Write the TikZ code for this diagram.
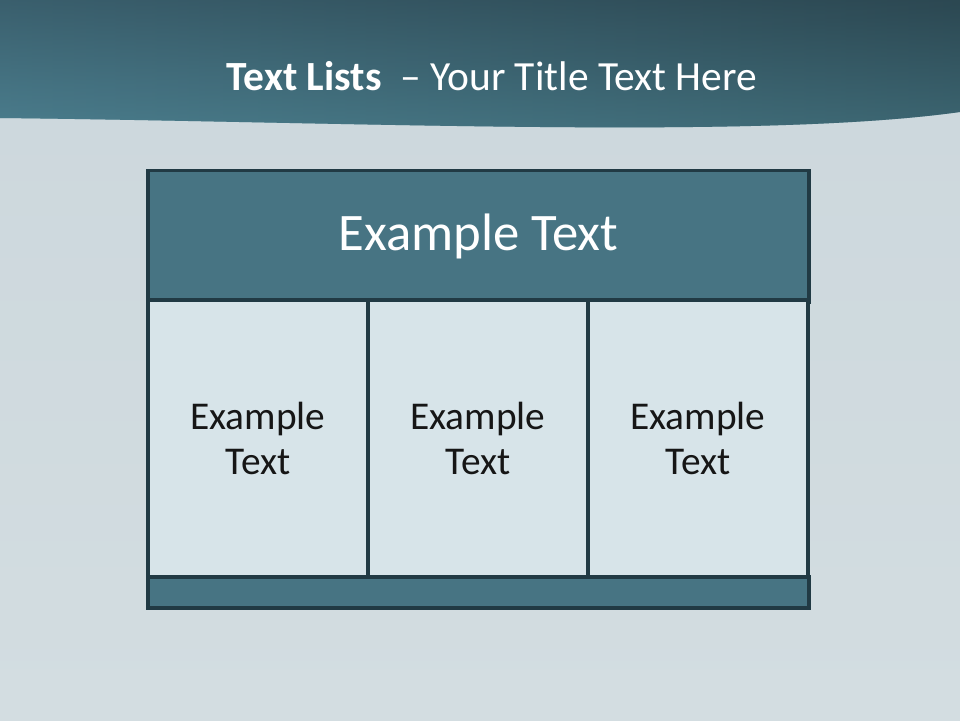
\documentclass[tikz,border=0pt]{standalone}
\usepackage{fontspec}
\setmainfont{Carlito}
\usetikzlibrary{positioning}
\definecolor{tlpaper}{HTML}{CCD7DC}
\definecolor{tlpaperlow}{HTML}{D3DDE1}
\definecolor{tlbandtop}{HTML}{2C4852}
\definecolor{tlbandbottom}{HTML}{508A98}
\definecolor{tlbandleft}{HTML}{487688}
\definecolor{tlbandright}{HTML}{2C4852}
\definecolor{tlhead}{HTML}{477483}
\definecolor{tlcell}{HTML}{D7E4E9}
\definecolor{tlline}{HTML}{213A44}
\definecolor{tlink}{HTML}{161616}
\tikzset{
  tlframe/.style={
    draw=tlline, line width=2.3pt, inner sep=0pt},
  tlheadbox/.style={
    tlframe, fill=tlhead, minimum width=16.525cm, minimum height=3.3cm,
    font=\fontsize{37.5}{44}\selectfont, text=white},
  tlcellbox/.style={
    tlframe, fill=tlcell, minimum width=5.5cm, minimum height=6.925cm,
    font=\fontsize{28}{32.5}\selectfont, text=tlink, align=center},
  tlfootbox/.style={
    tlframe, fill=tlhead, minimum width=16.525cm, minimum height=0.775cm},
  tltitle/.style={font=\fontsize{29.5}{36}\selectfont, text=white},
}

\begin{document}
\begin{tikzpicture}[x=1cm, y=1cm]
\useasboundingbox (0, 0) rectangle (24, 18);

% Paper background and the wavy top band.
\shade[bottom color=tlpaperlow, top color=tlpaper] (0, 0) rectangle (24, 18);
\shade[bottom color=tlbandbottom, top color=tlbandtop]
  (0, 18) -- (24, 18) -- (24, 15.2)
  .. controls (19, 14.5) and (9, 14.95) .. (0, 15.05) -- cycle;
\shade[left color=tlbandleft, right color=tlbandright, fill opacity=0.5]
  (0, 18) -- (24, 18) -- (24, 15.2)
  .. controls (19, 14.5) and (9, 14.95) .. (0, 15.05) -- cycle;

% Title.
\node[tltitle] (title) at (12.3, 16.1)
  {\textbf{Text Lists}\ \ -- Your Title Text Here};

% Header row, three cells and the footer strip.
\node[tlheadbox] (head) at (11.9625, 12.08) {Example Text};
\foreach \i/\x in {0/6.45, 1/11.95, 2/17.45} {
  \node[tlcellbox] (cell\i) at (\x, 7.0375) {Example\\Text};
}
\node[tlfootbox] (foot) at (11.9625, 3.1875) {};

\end{tikzpicture}
\end{document}
